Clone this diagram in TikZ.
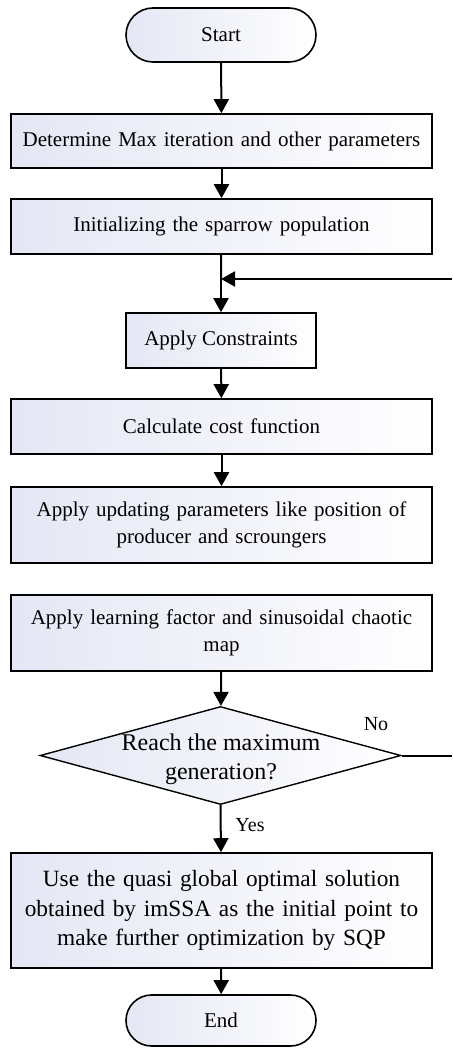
\documentclass[tikz,border=0pt]{standalone}
\usepackage{fontspec}
\setmainfont{Liberation Serif}
\usetikzlibrary{arrows.meta,shapes.geometric,shapes.misc}
\definecolor{boxfill}{RGB}{228,231,244}
\tikzset{
  base/.style={draw=black,line width=1.6pt,left color=boxfill,right color=white,align=center,inner sep=0pt},
  procbox/.style={base,minimum width=421pt,text width=415pt},
  smallbox/.style={base,minimum width=190pt,minimum height=55pt},
  termbox/.style={base,rounded rectangle,minimum width=190pt},
  decbox/.style={base,diamond,aspect=3.68,minimum width=361pt,minimum height=98pt,inner sep=0pt,line width=1.4pt},
  arr/.style={line width=2pt,-{Triangle[width=15pt,length=14pt]}},
  ln/.style={line width=2pt},
  lbl/.style={font=\fontsize{20}{24}\selectfont},
  fa/.style={font=\fontsize{21}{25}\selectfont}
}
\begin{document}
\begin{tikzpicture}[x=1pt,y=-1pt]
\useasboundingbox (0,0) rectangle (452,1048);
\node[termbox,minimum height=54pt,fa] (start) at (221,35) {Start};
\node[procbox,minimum height=54pt,fa] (b1) at (221.5,141) {Determine Max iteration and other parameters};
\node[procbox,minimum height=55pt,fa] (b2) at (221.5,226.5) {Initializing the sparrow population};
\coordinate (join) at (221,279);
\coordinate (redge) at (452,279);
\node[smallbox,fa] (b3) at (221,340.5) {Apply Constraints};
\node[procbox,minimum height=55pt,fa] (b4) at (221.5,426.5) {Calculate cost function};
\node[procbox,minimum height=76pt,font=\fontsize{21}{26.5}\selectfont] (b5) at (221.5,525) {Apply updating parameters like position of\\producer and scroungers};
\node[procbox,minimum height=76pt,font=\fontsize{21}{26.5}\selectfont] (b6) at (221.5,633) {Apply learning factor and sinusoidal chaotic\\map};
\node[decbox] (d) at (220.5,755.5) {};
\node[font=\fontsize{24}{29}\selectfont,align=center] (dt) at (221,759) {Reach the maximum\\generation?};
\coordinate (nedge) at (452,755.5);
\node[procbox,minimum height=115pt,font=\fontsize{23.3}{29.5}\selectfont] (b7) at (221.5,910.5) {Use the quasi global optimal solution\\obtained by imSSA as the initial point to\\make further optimization by SQP};
\node[termbox,minimum height=51pt,fa] (end) at (221,1020.5) {End};
\draw[arr] (start) -- (b1);
\draw[arr] (b1) -- (b2);
\draw[ln] (b2) -- (join);
\draw[arr] (join) -- (b3);
\draw[arr] (redge) -- (join);
\draw[arr] (b3) -- (b4);
\draw[arr] (b4) -- (b5);
\draw[arr] (b6) -- (d);
\draw[ln] (d.east) -- (nedge);
\node[lbl] (no) at (376,724) {No};
\draw[arr] (d.south) -- (b7);
\node[lbl] (yes) at (250,825) {Yes};
\draw[arr] (b7) -- (end);
\end{tikzpicture}
\end{document}
